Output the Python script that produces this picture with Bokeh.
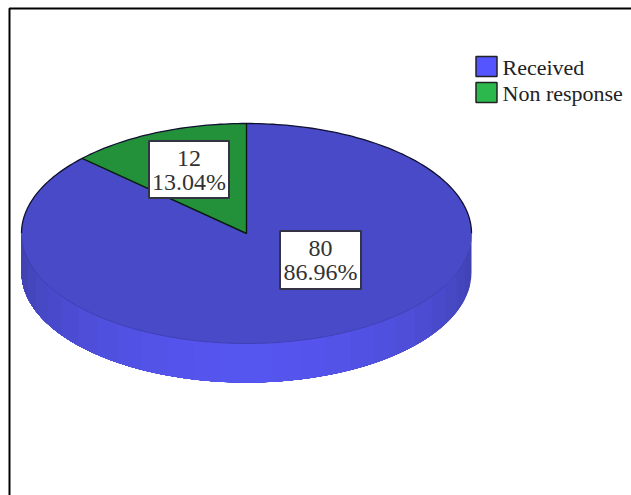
import math
from bokeh.embed import file_html
from bokeh.models import Range1d
from bokeh.plotting import figure
from bokeh.resources import INLINE
from bokeh.core.properties import value

# Survey responses shown as a tilted pie
categories = ["Received", "Non response"]
counts = [80, 12]
percent_labels = ["86.96%", "13.04%"]

top_colors = ["#484AC8", "#23903A"]
legend_colors = ["#5555FF", "#2CB84C"]
FONT = "Liberation Serif"

WIDTH, HEIGHT = 631, 495
CX, CY, RX, RY, DEPTH = 246, 233, 225, 110, 39

p = figure(width=WIDTH, height=HEIGHT, output_backend="svg", toolbar_location=None,
           x_range=Range1d(0, WIDTH), y_range=Range1d(HEIGHT, 0), min_border=0)
p.axis.visible = False
p.grid.visible = False
p.outline_line_color = None
p.background_fill_color = "white"
p.border_fill_color = "white"


def rim(turn, y_offset=0.0):
    """Point on the ellipse; turn runs clockwise from 12 o'clock in radians."""
    return CX + RX * math.sin(turn), CY - RY * math.cos(turn) + y_offset


def arc_points(start, end, steps, y_offset=0.0):
    return [rim(start + (end - start) * i / steps, y_offset) for i in range(steps + 1)]


# Clockwise from the top: the large slice first, the small slice closes the circle
total = sum(counts)
received_end = 2 * math.pi * counts[0] / total

# Side wall: overlapping shaded facets, brightest at the front.
# Each facet runs on to the far end of the wall so no seams open between them.
FACETS = 26
for i in range(FACETS):
    a0 = math.pi / 2 + math.pi * i / FACETS
    a1 = 3 * math.pi / 2
    front = math.sin(math.pi * (i + 0.5) / FACETS) ** 1.3
    r = int(0x40 + (0x56 - 0x40) * front)
    g = int(0x42 + (0x56 - 0x42) * front)
    b = int(0xB0 + (0xF0 - 0xB0) * front)
    upper = arc_points(a0, a1, 60)
    lower = arc_points(a1, a0, 60, DEPTH)
    pts = upper + lower
    p.patch([q[0] for q in pts], [q[1] for q in pts],
            fill_color=f"#{r:02X}{g:02X}{b:02X}", line_color=None)

# Top face slices
spans = [(0.0, received_end), (received_end, 2 * math.pi)]
for (start, end), color in zip(spans, top_colors):
    pts = [(CX, CY)] + arc_points(start, end, 240)
    p.patch([q[0] for q in pts], [q[1] for q in pts], fill_color=color, line_color=None)

# Dark edge: the back half of the rim and the small slice's radii
back = arc_points(math.radians(270), math.radians(450), 160)
p.line([q[0] for q in back], [q[1] for q in back], line_color="#101030", line_width=1.3)
front_edge = arc_points(math.radians(90), math.radians(270), 160)
p.line([q[0] for q in front_edge], [q[1] for q in front_edge], line_color="#3A3CA8", line_width=0.7)
edge = [rim(received_end), (CX, CY), rim(0.0)]
p.line([q[0] for q in edge], [q[1] for q in edge], line_color="#0B1A10", line_width=1.4)

# Value labels in white boxes
boxes = [(279, 230, 360, 288), (148, 140, 228, 197)]
for (x0, y0, x1, y1), count, pct in zip(boxes, counts, percent_labels):
    p.quad(left=[x0 + 0.5], right=[x1 + 0.5], top=[y0 + 0.5], bottom=[y1 + 0.5],
           fill_color="white", line_color="#333344", line_width=2)
    xm = (x0 + x1) / 2 + 0.5
    p.text([xm], [y0 + 18], text=[str(count)], text_align="center", text_baseline="middle",
           text_font=value(FONT), text_font_size="24px", text_color="#333333")
    p.text([xm], [y0 + 41], text=[pct], text_align="center", text_baseline="middle",
           text_font=value(FONT), text_font_size="24px", text_color="#333333")

# Legend
legend_rows = [66, 92]
for name, color, yc in zip(categories, legend_colors, legend_rows):
    p.quad(left=[475.5], right=[496.5], top=[yc - 10], bottom=[yc + 10],
           fill_color=color, line_color="#222222", line_width=1.5)
    p.text([502], [yc + 1], text=[name], text_align="left", text_baseline="middle",
           text_font=value(FONT), text_font_size="22px", text_color="#222222")

# Frame along the top and left
p.line([9, 9, WIDTH], [HEIGHT, 8, 8], line_color="black", line_width=2)

open("out.html", "w").write(file_html(p, INLINE))
